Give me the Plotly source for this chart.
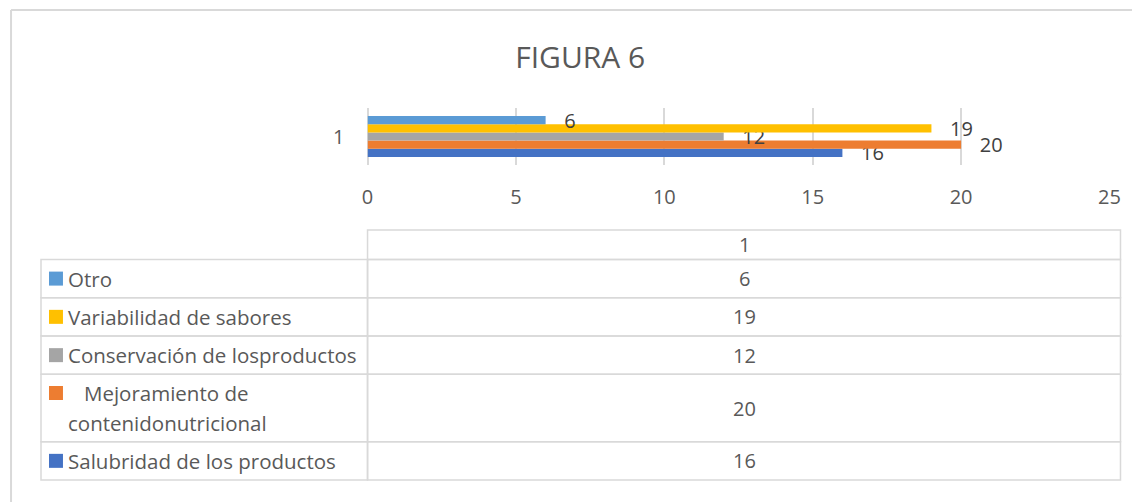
import plotly.graph_objects as go

# ---- data ----
categories = ["1"]
series_names = [
    "Salubridad de los productos",
    "Mejoramiento de contenidonutricional",
    "Conservación de losproductos",
    "Variabilidad de sabores",
    "Otro",
]
series_values = [16, 20, 12, 19, 6]
series_colors = ["#4472C4", "#ED7D31", "#A5A5A5", "#FFC000", "#5B9BD5"]
x_ticks = [0, 5, 10, 15, 20, 25]
title_text = "FIGURA 6"
# table labels (top-to-bottom order in the data table), with wrapping as shown
table_order = [4, 3, 2, 1, 0]
table_label_lines = {
    0: ["Salubridad de los productos"],
    1: ["\u00a0\u00a0\u00a0Mejoramiento de", "contenidonutricional"],
    2: ["Conservación de losproductos"],
    3: ["Variabilidad de sabores"],
    4: ["Otro"],
}

W, H = 1143, 502
FONT = "Open Sans"
TXT = "#595959"
GRID = "#d9d9d9"

# horizontal calibration of the rendered page (observed)
SX, AX = 0.9865, 4.95


def px(x):
    return ((x - AX) / SX) / W


def py(y):
    return 1 - y / H


fig = go.Figure()
for name, val, col in zip(series_names, series_values, series_colors):
    fig.add_trace(go.Bar(
        y=categories, x=[val], orientation="h", name=name,
        marker=dict(color=col, line=dict(width=0)),
        text=[val], texttemplate="\u00a0\u00a0\u00a0%{x}",
        textposition="outside", constraintext="none", cliponaxis=False,
        textfont=dict(family=FONT, size=20, color="#404040"),
    ))

# plot area geometry (pixels)
PL, PR, PT, PB = 367, 1110, 108, 165

fig.update_layout(
    width=W, height=H, autosize=False,
    margin=dict(l=0, r=0, t=0, b=0),
    paper_bgcolor="white", plot_bgcolor="white",
    barmode="group", bargap=0.28, bargroupgap=0,
    showlegend=False,
    font=dict(family=FONT, color=TXT),
    title=dict(text=title_text, x=px(580), y=py(57), xanchor="center", yanchor="middle",
               xref="paper", yref="paper",
               font=dict(family=FONT, size=30, color=TXT)),
    xaxis=dict(domain=[px(PL), px(PR)], range=[0, 25], tickvals=x_ticks,
               showgrid=True, gridcolor=GRID, gridwidth=1.5,
               zeroline=True, zerolinecolor=GRID, zerolinewidth=1.5,
               showline=False, ticks="", ticklabelstandoff=18,
               tickfont=dict(family=FONT, size=20, color=TXT), fixedrange=True),
    yaxis=dict(domain=[py(PB), py(PT)], type="category", showgrid=False,
               zeroline=False, showline=False, ticks="", ticklabelstandoff=22,
               tickfont=dict(family=FONT, size=20, color=TXT), fixedrange=True),
)

shapes = []
annotations = []
LINE = dict(color=GRID, width=1.5)

# outer chart border (top and left)
shapes.append(dict(type="line", xref="paper", yref="paper", x0=px(10), x1=1, y0=py(10), y1=py(10), line=dict(color=GRID, width=2)))
shapes.append(dict(type="line", xref="paper", yref="paper", x0=px(10), x1=px(10), y0=py(10), y1=0, line=dict(color=GRID, width=2)))

# data table geometry (pixels)
TL, TM, TR = 40, 367, 1121
HT = 230
row_bounds = [259.5, 297.7, 336, 374.3, 441.7, 480]


def ann(text, x, y, xanchor="center", size=20):
    return dict(text=text, x=px(x), y=py(y), xref="paper", yref="paper",
                xanchor=xanchor, yanchor="middle", showarrow=False,
                font=dict(family=FONT, size=size, color=TXT))


# header box
shapes.append(dict(type="rect", xref="paper", yref="paper", x0=px(TM), x1=px(TR), y0=py(HT), y1=py(row_bounds[0]), line=LINE))
annotations.append(ann(categories[0], (TM + TR) / 2, (HT + row_bounds[0]) / 2))

for r, si in enumerate(table_order):
    top, bot = row_bounds[r], row_bounds[r + 1]
    shapes.append(dict(type="rect", xref="paper", yref="paper", x0=px(TL), x1=px(TM), y0=py(top), y1=py(bot), line=LINE))
    shapes.append(dict(type="rect", xref="paper", yref="paper", x0=px(TM), x1=px(TR), y0=py(top), y1=py(bot), line=LINE))
    lines = table_label_lines[si]
    mid = (top + bot) / 2
    ys = [mid] if len(lines) == 1 else [mid - 15, mid + 15]
    sy = ys[0]
    shapes.append(dict(type="rect", xref="paper", yref="paper", x0=px(48), x1=px(62), y0=py(sy - 7), y1=py(sy + 7),
                       fillcolor=series_colors[si], line=dict(width=0)))
    for ln, yy in zip(lines, ys):
        annotations.append(ann(ln, 65, yy, xanchor="left", size=20.5))
    annotations.append(ann(str(series_values[si]), (TM + TR) / 2, mid))

fig.update_layout(shapes=shapes, annotations=annotations)
fig.write_html(
    "out.html",
    config={"displayModeBar": False},
    post_script="document.body.style.margin='0';document.body.style.overflow='hidden';",
)
